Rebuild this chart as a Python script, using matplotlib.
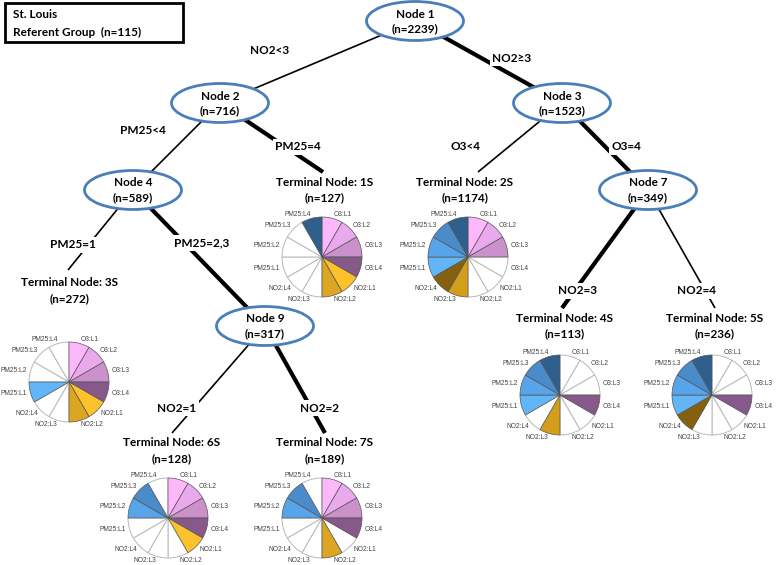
import numpy as np
import matplotlib
matplotlib.use('Agg')
import matplotlib.pyplot as plt
from matplotlib.patches import Ellipse, Wedge, Rectangle

plt.rcParams['font.family'] = ['Lato', 'DejaVu Sans']

# pie sectors (clockwise from 12 o'clock)
sectors = ['O3:L1', 'O3:L2', 'O3:L3', 'O3:L4',
           'NO2:L1', 'NO2:L2', 'NO2:L3', 'NO2:L4',
           'PM25:L1', 'PM25:L2', 'PM25:L3', 'PM25:L4']
sector_colors = ['#fdb8fb', '#e9a9ec', '#cb91cb', '#86598a',
                 '#fcc22c', '#dca623', '#d39e1c', '#85600f',
                 '#62b6f7', '#58a4e8', '#4a8bc9', '#2f5f8c']

# inner nodes: name, n, centre
inner_names = ['Node 1', 'Node 2', 'Node 3', 'Node 4', 'Node 7', 'Node 9']
inner_n = [2239, 716, 1523, 589, 349, 317]
inner_xy = [(415, 21), (220, 103), (562, 103), (133, 190), (648, 190), (265, 326)]

# terminal nodes: name, n, title position, pie centre, filled sectors
term_names = ['1S', '2S', '3S', '4S', '5S', '6S', '7S']
term_n = [127, 1174, 272, 113, 236, 128, 189]
term_title_xy = [(325, 182), (465, 182), (70, 283), (565, 318), (715, 318), (172, 443), (325, 443)]
term_pie_xy = [(322, 257), (468, 257), (69, 382), (560, 395), (712, 395), (168, 518), (322, 518)]
term_fill = [
    [1, 1, 1, 1, 1, 1, 0, 0, 0, 0, 0, 1],
    [1, 1, 1, 0, 0, 0, 1, 1, 1, 1, 1, 1],
    [1, 1, 1, 1, 1, 1, 0, 0, 1, 0, 0, 0],
    [0, 0, 0, 1, 0, 0, 1, 0, 1, 1, 1, 1],
    [0, 0, 0, 1, 0, 0, 0, 1, 1, 1, 1, 1],
    [1, 1, 1, 1, 1, 0, 0, 0, 0, 1, 1, 0],
    [1, 1, 1, 1, 0, 1, 0, 0, 0, 1, 1, 0],
]

# splits: parent, child end point, label, label position, thick
edge_from = ['Node 1', 'Node 1', 'Node 2', 'Node 2', 'Node 3', 'Node 3',
             'Node 4', 'Node 4', 'Node 7', 'Node 7', 'Node 9', 'Node 9']
edge_to = [(220, 103), (562, 103), (133, 190), (323, 172), (478, 172), (648, 190),
           (68, 270), (265, 326), (562, 308), (715, 308), (172, 433), (325, 433)]
edge_label = ['NO2<3', 'NO2\u22653', 'PM25<4', 'PM25=4', 'O3<4', 'O3=4',
              'PM25=1', 'PM25=2,3', 'NO2=3', 'NO2=4', 'NO2=1', 'NO2=2']
edge_label_xy = [(270, 51), (512, 58), (143, 130), (298, 147), (466, 147), (626, 147),
                 (73, 245), (202, 243), (578, 291), (697, 291), (177, 408), (320, 408)]
edge_thick = [0, 1, 0, 1, 0, 1, 0, 1, 1, 0, 0, 1]

W, H = 778, 565
fig = plt.figure(figsize=(W / 100, H / 100), dpi=100)
ax = fig.add_axes([0, 0, 1, 1])
ax.set_xlim(0, W)
ax.set_ylim(H, 0)
ax.axis('off')

pos = dict(zip(inner_names, inner_xy))

# edges
for p, end, lab, lxy, thick in zip(edge_from, edge_to, edge_label, edge_label_xy, edge_thick):
    x0, y0 = pos[p]
    ax.plot([x0, end[0]], [y0, end[1]], color='black', lw=3 if thick else 1.2,
            solid_capstyle='butt', zorder=1)
    ax.text(lxy[0], lxy[1], lab, ha='center', va='center', fontsize=8.5,
            fontweight='bold', zorder=3,
            bbox=dict(facecolor='white', edgecolor='none', pad=1.5))

# inner nodes
for name, n, (x, y) in zip(inner_names, inner_n, inner_xy):
    ax.add_patch(Ellipse((x, y), 97, 39, facecolor='white', edgecolor='#4a7ebb',
                         lw=2, zorder=2))
    ax.text(x, y - 7, name, ha='center', va='center', fontsize=8.5,
            fontweight='bold', zorder=3)
    ax.text(x, y + 8, '(n=%d)' % n, ha='center', va='center', fontsize=8.5,
            fontweight='bold', zorder=3)

# terminal nodes
r = 40
for name, n, (tx, ty), (cx, cy), fill in zip(term_names, term_n, term_title_xy,
                                             term_pie_xy, term_fill):
    ax.text(tx, ty, 'Terminal Node: ' + name, ha='center', va='center',
            fontsize=8.5, fontweight='bold')
    ax.text(tx, ty + 16, '(n=%d)' % n, ha='center', va='center',
            fontsize=8.5, fontweight='bold')
    order = [i for i in range(12) if not fill[i]] + [i for i in range(12) if fill[i]]
    for k in order:
        t1, t2 = 30 * k - 90, 30 * k - 60
        if fill[k]:
            ax.add_patch(Wedge((cx, cy), r, t1, t2, facecolor=sector_colors[k],
                               edgecolor='#555555', lw=0.5, zorder=2))
        else:
            ax.add_patch(Wedge((cx, cy), r, t1, t2, facecolor='white',
                               edgecolor='#b8b8b8', lw=0.7, zorder=1.5))
    for k, lab in enumerate(sectors):
        a = np.radians(30 * k + 15)
        lx = cx + 1.1 * r * np.sin(a)
        ly = cy - 1.1 * r * np.cos(a)
        ax.text(lx, ly, lab, ha='left' if k < 6 else 'right', va='center',
                fontsize=4.8, color='#444444', family=['Liberation Sans', 'DejaVu Sans'])

# header box
ax.add_patch(Rectangle((5, 3), 178, 39, facecolor='white', edgecolor='black', lw=2))
ax.text(13, 14, 'St. Louis', ha='left', va='center', fontsize=8.5, fontweight='bold')
ax.text(13, 32, 'Referent Group  (n=115)', ha='left', va='center', fontsize=8.5,
        fontweight='bold')

fig.savefig('out.png', dpi=100)
